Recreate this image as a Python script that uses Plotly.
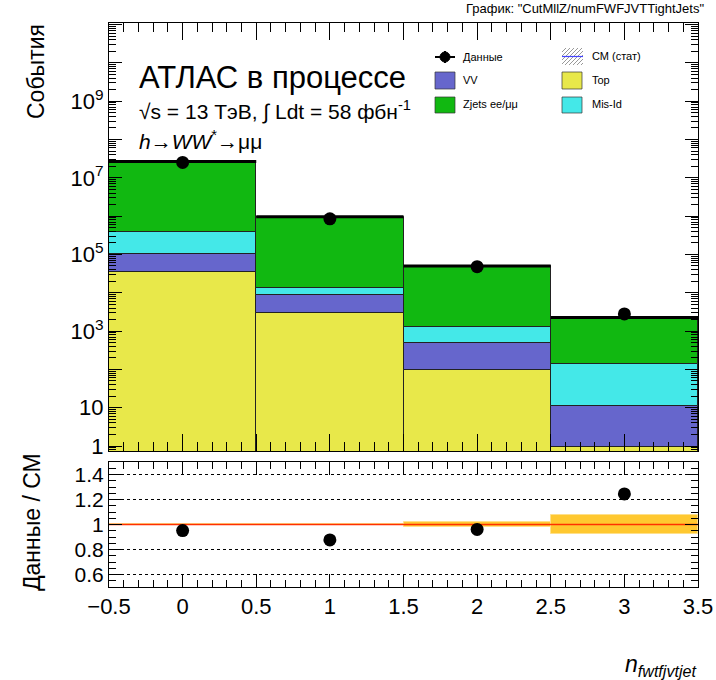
import numpy as np
import plotly.graph_objects as go

# ---------------- data ----------------
bins = [0, 1, 2, 3]
top_mc = [3.55e4, 3.0e3, 96, 0.95]
vv = [6.75e4, 5.6e3, 394, 10.0]
misid = [2.77e5, 5.0e3, 790, 127]
zjets = [2.61e7, 9.56e5, 4.87e4, 2112]
data = [2.52e7, 8.5e5, 4.8e4, 2.8e3]
stat_rel = [0.004, 0.004, 0.022, 0.075]

ytick_vals = [10 ** k for k in range(0, 12)]
ytick_text = ["1", "10", "", "10<sup>3</sup>", "", "10<sup>5</sup>", "",
              "10<sup>7</sup>", "", "10<sup>9</sup>", "", ""]

# ---------------- style ----------------
C_TOP = "#e8e84a"
C_VV = "#6666cc"
C_MIS = "#44e8e8"
C_Z = "#11b811"
C_BAND = "#ffc830"
FONT = "Liberation Sans"

W, H = 716, 680
L, R, T, B = 109, 18, 23, 93
PW, PH = W - L - R, H - T - B


def px(x):
    return (x - L) / PW


def py(y):
    return (H - B - y) / PH


top_dom = [py(451), 1.0]
bot_dom = [0.0, py(462)]

fig = go.Figure()

# stacked components (cumulative bases)
comps = [("Top", top_mc, C_TOP), ("VV", vv, C_VV), ("Mis-Id", misid, C_MIS), ("Zjets", zjets, C_Z)]
base = np.zeros(4)
for name, vals, col in comps:
    vals = np.array(vals, dtype=float)
    fig.add_trace(go.Bar(x=bins, y=vals, base=base.copy(), width=1.0, marker_color=col,
                         marker_line=dict(color="#222222", width=1), name=name,
                         showlegend=False, xaxis="x", yaxis="y"))
    base = base + vals
total = base

# stat hatch band
srel = np.array(stat_rel)
fig.add_trace(go.Bar(x=bins, y=2 * srel * total, base=total * (1 - srel), width=1.0,
                     marker=dict(color="rgba(0,0,0,0)", line=dict(width=0),
                                 pattern=dict(shape="/", fgcolor="#888888", size=5, solidity=0.3)),
                     showlegend=False, xaxis="x", yaxis="y"))

# total outline (horizontal segments)
sx, sy = [], []
for b, t in zip(bins, total):
    sx += [b - 0.5, b + 0.5, None]
    sy += [t, t, None]
fig.add_trace(go.Scatter(x=sx, y=sy, mode="lines", line=dict(color="black", width=3),
                         showlegend=False, xaxis="x", yaxis="y"))

# data points
fig.add_trace(go.Scatter(x=bins, y=data, mode="markers", marker=dict(color="black", size=13),
                         showlegend=False, xaxis="x", yaxis="y"))

# ratio panel: band, line, points
fig.add_trace(go.Bar(x=bins, y=2 * srel, base=1 - srel, width=1.0,
                     marker=dict(color=C_BAND, line=dict(color="#ffe08a", width=1)),
                     showlegend=False, xaxis="x2", yaxis="y2"))
fig.add_trace(go.Scatter(x=[-0.5, 3.5], y=[1, 1], mode="lines", line=dict(color="#ff3000", width=1.5),
                         showlegend=False, xaxis="x2", yaxis="y2"))
ratio = np.array(data) / total
fig.add_trace(go.Scatter(x=bins, y=ratio, mode="markers", marker=dict(color="black", size=13),
                         showlegend=False, xaxis="x2", yaxis="y2"))

axis_common = dict(showline=True, linecolor="black", linewidth=1, mirror="ticks",
                   ticks="inside", tickcolor="black", zeroline=False, automargin=False)

fig.update_layout(
    width=W, height=H, margin=dict(l=L, r=R, t=T, b=B, autoexpand=False),
    paper_bgcolor="white", plot_bgcolor="white", barmode="overlay", bargap=0,
    font=dict(family=FONT, color="black"),
    xaxis=dict(domain=[0, 1], anchor="y", range=[-0.5, 3.5], dtick=0.5, tick0=0,
               ticklen=17, showticklabels=False, showgrid=False,
               minor=dict(dtick=0.1, ticklen=9, ticks="inside", tickcolor="black"),
               **axis_common),
    yaxis=dict(domain=top_dom, anchor="x", type="log", range=[-0.13, 11.04],
               tickmode="array", tickvals=ytick_vals, ticktext=ytick_text,
               ticklen=13, showgrid=False, tickfont=dict(size=22),
               minor=dict(dtick="D1", ticklen=7, ticks="inside", tickcolor="black"),
               **axis_common),
    xaxis2=dict(domain=[0, 1], anchor="y2", range=[-0.5, 3.5], dtick=0.5, tick0=0,
                ticklen=13, showgrid=False, tickfont=dict(size=22),
                minor=dict(dtick=0.1, ticklen=7, ticks="inside", tickcolor="black"),
                **axis_common),
    yaxis2=dict(domain=bot_dom, anchor="x2", range=[0.5, 1.5], dtick=0.2, tick0=0.6,
                ticklen=13, tickfont=dict(size=21),
                showgrid=True, gridcolor="black", griddash="dot", gridwidth=1,
                minor=dict(dtick=0.05, ticklen=7, ticks="inside", tickcolor="black"),
                **axis_common),
)

ann = []


def text(x, y, s, size, xanchor="left", yanchor="middle", angle=0, color="black"):
    ann.append(dict(x=px(x), y=py(y), xref="paper", yref="paper", text=s, showarrow=False,
                    xanchor=xanchor, yanchor=yanchor, textangle=angle,
                    font=dict(family=FONT, size=size, color=color)))


text(706, 9, "График: \"CutMllZ/numFWFJVTTightJets\"", 13, xanchor="right")
text(137, 78, "АТЛАС в процессе", 31)
text(137, 110, "√s = 13 ТэВ, ∫ Ldt = 58 фбн<sup>-1</sup>", 21)
text(137, 140, "<i>h</i>→<i>WW</i><sup>*</sup>→μμ", 21)
text(36, 72, "События", 23, xanchor="center", angle=-90)
text(32, 522, "Данные / СМ", 23, xanchor="center", angle=-90)
text(699, 665, "<i>n</i><sub><i>fwtfjvtjet</i></sub>", 23, xanchor="right")

# legend
text(461, 57, "Данные", 11)
text(461, 80, "VV", 11)
text(461, 104, "Zjets ee/μμ", 11)
text(590, 56, "СМ (стат)", 11)
text(590, 80, "Top", 11)
text(590, 104, "Mis-Id", 11)

shapes = []


def rect(x0, y0, x1, y1, col):
    shapes.append(dict(type="rect", xref="paper", yref="paper", x0=px(x0), x1=px(x1),
                       y0=py(y1), y1=py(y0), fillcolor=col, line=dict(color="#333333", width=0.7)))


def seg(x0, y0, x1, y1, col, w):
    shapes.append(dict(type="line", xref="paper", yref="paper", x0=px(x0), x1=px(x1),
                       y0=py(y0), y1=py(y1), line=dict(color=col, width=w)))


rect(435, 72, 455, 89, C_VV)
rect(435, 97, 455, 113, C_Z)
rect(562, 72, 582, 89, C_TOP)
rect(562, 97, 582, 113, C_MIS)

# data legend marker
seg(435, 57, 455, 57, "black", 2)
seg(445, 51, 445, 63, "black", 2)
shapes.append(dict(type="circle", xref="paper", yref="paper", x0=px(440), x1=px(450),
                   y0=py(62), y1=py(52), fillcolor="black", line=dict(color="black", width=1)))

# hatch legend swatch
bx0, bx1, by0, by1 = 562, 583, 48, 65
for s in range(bx0 - (by1 - by0), bx1, 4):
    xa, ya = s, by1
    xb, yb = s + (by1 - by0), by0
    if xa < bx0:
        ya = by1 - (bx0 - xa)
        xa = bx0
    if xb > bx1:
        yb = by0 + (xb - bx1)
        xb = bx1
    if xb > xa:
        seg(xa, ya, xb, yb, "#999999", 1)
seg(bx0, 56.5, bx1, 56.5, "#4444ff", 1.2)

fig.update_layout(annotations=ann, shapes=shapes)
fig.write_html("out.html")
